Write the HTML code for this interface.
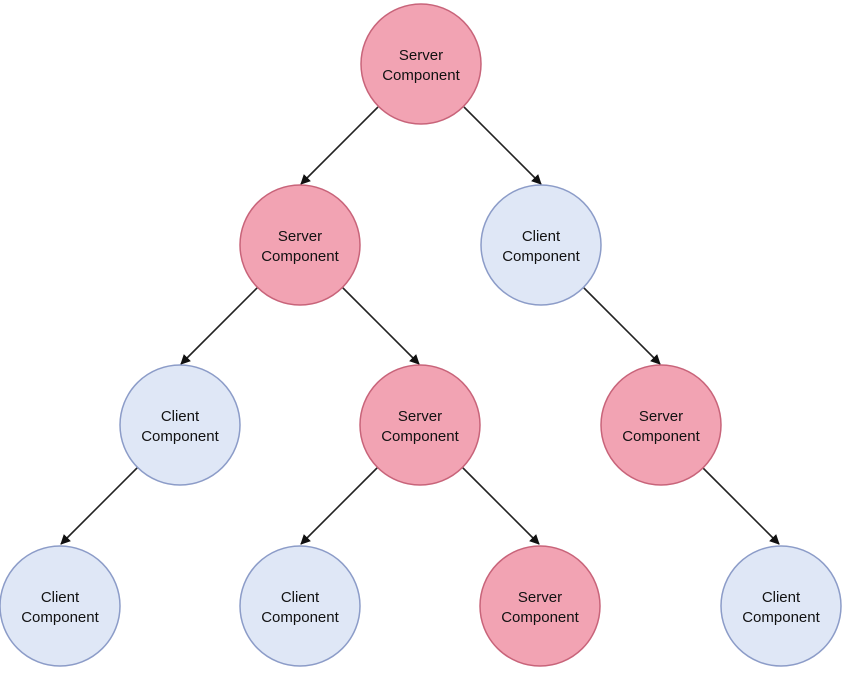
<!DOCTYPE html>
<html><head><meta charset="utf-8"><style>
html,body{margin:0;padding:0;background:#fff;}
svg{display:block;}
text{font-family:"Liberation Sans",sans-serif;font-size:15px;fill:#111;text-anchor:middle;}
</style></head><body>
<svg width="850" height="677" viewBox="0 0 850 677">
<defs><marker id="a" markerWidth="10" markerHeight="10" refX="9" refY="5" orient="auto" markerUnits="userSpaceOnUse"><path d="M0,0 L10,5 L0,10 z" fill="#111"/></marker></defs>
<g stroke="#222" stroke-width="1.6" marker-end="url(#a)">
<line x1="378" y1="107" x2="301" y2="184"/>
<line x1="464" y1="107" x2="541" y2="184"/>
<line x1="258" y1="287" x2="181" y2="364"/>
<line x1="342" y1="287" x2="419" y2="364"/>
<line x1="583" y1="287" x2="660" y2="364"/>
<line x1="138" y1="467" x2="61" y2="544"/>
<line x1="378" y1="467" x2="301" y2="544"/>
<line x1="462" y1="467" x2="539" y2="544"/>
<line x1="702" y1="467" x2="779" y2="544"/>
</g>
<g stroke-width="1.5">
<circle cx="421" cy="64" r="60" fill="#f2a3b3" stroke="#c8647a"/>
<circle cx="300" cy="245" r="60" fill="#f2a3b3" stroke="#c8647a"/>
<circle cx="541" cy="245" r="60" fill="#dfe7f6" stroke="#8c9cc8"/>
<circle cx="180" cy="425" r="60" fill="#dfe7f6" stroke="#8c9cc8"/>
<circle cx="420" cy="425" r="60" fill="#f2a3b3" stroke="#c8647a"/>
<circle cx="661" cy="425" r="60" fill="#f2a3b3" stroke="#c8647a"/>
<circle cx="60" cy="606" r="60" fill="#dfe7f6" stroke="#8c9cc8"/>
<circle cx="300" cy="606" r="60" fill="#dfe7f6" stroke="#8c9cc8"/>
<circle cx="540" cy="606" r="60" fill="#f2a3b3" stroke="#c8647a"/>
<circle cx="781" cy="606" r="60" fill="#dfe7f6" stroke="#8c9cc8"/>
</g>
<text x="421" y="60">Server</text><text x="421" y="80">Component</text>
<text x="300" y="241">Server</text><text x="300" y="261">Component</text>
<text x="541" y="241">Client</text><text x="541" y="261">Component</text>
<text x="180" y="421">Client</text><text x="180" y="441">Component</text>
<text x="420" y="421">Server</text><text x="420" y="441">Component</text>
<text x="661" y="421">Server</text><text x="661" y="441">Component</text>
<text x="60" y="602">Client</text><text x="60" y="622">Component</text>
<text x="300" y="602">Client</text><text x="300" y="622">Component</text>
<text x="540" y="602">Server</text><text x="540" y="622">Component</text>
<text x="781" y="602">Client</text><text x="781" y="622">Component</text>
</svg>
</body></html>
